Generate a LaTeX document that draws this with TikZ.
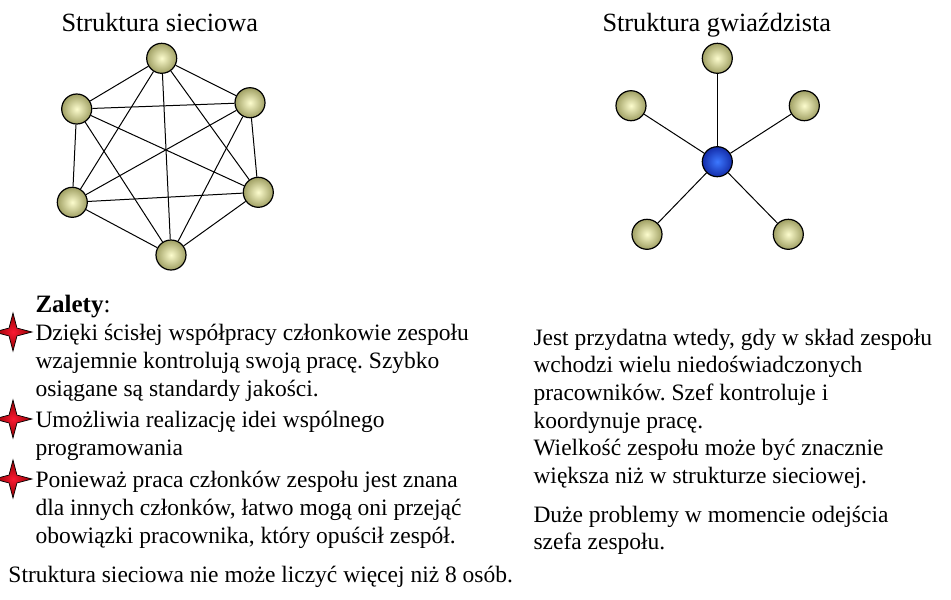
\documentclass[tikz,border=0pt]{standalone}
\usepackage{fontspec}
\setmainfont{Liberation Serif}
\usetikzlibrary{shapes.geometric}
\definecolor{meshin}{RGB}{252,252,205}
\definecolor{meshout}{RGB}{160,160,100}
\definecolor{hubin}{RGB}{60,120,255}
\definecolor{hubout}{RGB}{20,45,170}
\definecolor{starred}{RGB}{250,25,50}
\newcommand{\opis}[1]{\parbox[t]{520pt}{\raggedright #1}}
\frenchspacing

\begin{document}
\begin{tikzpicture}[x=1pt,y=-1pt,line width=1pt,
                    every node/.style={font=\fontsize{23.5}{28}\selectfont}]
  \tikzstyle{member}=[circle,draw=black,line width=1.2pt,minimum size=30pt,
                      inner sep=0pt,shading=radial,inner color=meshin,outer color=meshout]
  \tikzstyle{boss}=[member,inner color=hubin,outer color=hubout]
  \tikzstyle{bulletstar}=[star,star points=4,star point ratio=3.4,minimum size=38pt,
                          inner sep=0pt,draw=black,line width=0.7pt,shading=radial,
                          inner color=starred,outer color=black!45!red]
  \tikzstyle{txt}=[anchor=base west,inner sep=0pt]
  \tikzstyle{title}=[txt,font=\fontsize{26.3}{30}\selectfont]
  \useasboundingbox (0,0) rectangle (951,600);

  % struktura sieciowa
  \node[title] (t1) at (61,31) {Struktura sieciowa};
  \node[member] (n1) at (161.7,58.3) {};
  \node[member] (n2) at (250,102.7) {};
  \node[member] (n3) at (258.3,192.3) {};
  \node[member] (n4) at (171,255) {};
  \node[member] (n5) at (72.3,202.3) {};
  \node[member] (n6) at (76.7,109) {};

  \path (n1) edge (n2) edge (n3) edge (n4) edge (n5) edge (n6)
        (n2) edge (n3) edge (n4) edge (n5) edge (n6)
        (n3) edge (n4) edge (n5) edge (n6)
        (n4) edge (n5) edge (n6)
        (n5) edge (n6);

  % struktura gwiazdzista
  \node[title] (t2) at (602,31) {Struktura gwiaździsta};
  \node[boss] (hub) at (717.3,161.7) {};
  \node[member] (g1) at (717.3,58.3) {};
  \node[member] (g2) at (804.3,105.7) {};
  \node[member] (g3) at (788.3,234.3) {};
  \node[member] (g4) at (647,234.3) {};
  \node[member] (g5) at (631,105.7) {};

  \foreach \g in {g1,g2,g3,g4,g5}
    \draw (hub) -- (\g);

  % zalety
  \node[txt] (zal) at (35,312) {\fontsize{25}{28}\selectfont\textbf{Zalety}:};
  \node[bulletstar] (b1) at (13,332) {};
  \node[bulletstar] (b2) at (13,419) {};
  \node[bulletstar] (b3) at (13,479) {};
  \node[txt] (z1) at (35,340) {\opis{Dzięki ścisłej współpracy członkowie zespołu\\
    wzajemnie kontrolują swoją pracę. Szybko\\osiągane są standardy jakości.}};
  \node[txt] (z2) at (35,427) {\opis{Umożliwia realizację idei wspólnego\\programowania}};
  \node[txt] (z3) at (35,487) {\opis{Ponieważ praca członków zespołu jest znana\\
    dla innych członków, łatwo mogą oni przejąć\\obowiązki pracownika, który opuścił zespół.}};
  \node[txt] (limit) at (8,582) {Struktura sieciowa nie może liczyć więcej niż 8 osób.};

  % opis gwiazdy
  \node[txt,font=\fontsize{23.5}{27.7}\selectfont] (w1) at (533,345) {\opis{Jest przydatna wtedy, gdy w skład zespołu\\
    wchodzi wielu niedoświadczonych\\pracowników. Szef kontroluje i\\koordynuje pracę.\\
    Wielkość zespołu może być znacznie\\większa niż w strukturze sieciowej.}};
  \node[txt,font=\fontsize{23.5}{27.7}\selectfont] (w2) at (533,522) {\opis{Duże problemy w momencie odejścia\\szefa zespołu.}};
\end{tikzpicture}
\end{document}
